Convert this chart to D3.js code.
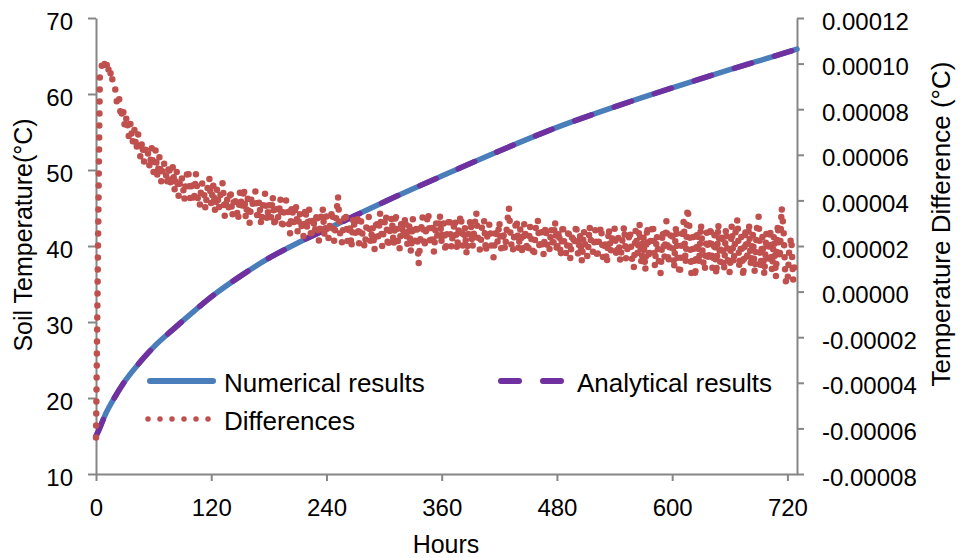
<!DOCTYPE html>
<html>
<head>
<meta charset="utf-8">
<script src="https://cdn.jsdelivr.net/npm/d3@7"></script>
<style>
  body { margin: 0; background: #fff; }
</style>
</head>
<body>
<div id="chart"></div>
<script>
// hours and soil temperature (both series overlap)
const curveHours = [0, 2, 5, 10, 20, 30, 45, 60, 80, 100, 120, 150, 180, 210, 240, 270, 300, 360, 420, 480, 540, 600, 660, 720, 730];
const numericalTemp = [15.0, 15.5, 16.4, 17.9, 20.2, 22.2, 24.6, 26.7, 29.0, 31.2, 33.3, 36.0, 38.4, 40.4, 42.2, 44.0, 45.8, 49.2, 52.5, 55.6, 58.3, 60.8, 63.2, 65.5, 65.9];
const analyticalTemp = [15.0, 15.5, 16.4, 17.9, 20.2, 22.2, 24.6, 26.7, 29.0, 31.2, 33.3, 36.0, 38.4, 40.4, 42.2, 44.0, 45.8, 49.2, 52.5, 55.6, 58.3, 60.8, 63.2, 65.5, 65.9];

// differences, one value every 2 hours starting at hour 0, in units of 1e-6 °C
const diffStepHours = 2;
const diffMicro = [
  -64, 16, 95, 99, 102, 97, 101, 94, 97, 89,
  89, 82, 85, 76, 81, 72, 77, 68, 74, 65,
  71, 62, 69, 59, 66, 57, 64, 61, 54, 63,
  52, 62, 50, 59, 48, 57, 55, 47, 56, 46,
  55, 44, 53, 42, 51, 49, 40, 50, 54, 41,
  49, 39, 52, 41, 37, 48, 46, 36, 45, 50,
  38, 47, 35, 45, 36, 44, 48, 33, 42, 36,
  45, 33, 42, 38, 31, 44, 36, 46, 32, 41,
  30, 42, 36, 44, 31, 40, 29, 38, 43, 31,
  39, 30, 42, 28, 37, 32, 41, 27, 36, 40,
  35, 25, 38, 30, 39, 26, 35, 29, 24, 37,
  27, 36, 23, 33, 26, 35, 22, 31, 37, 24,
  33, 23, 31, 36, 22, 32, 42, 26, 21, 31,
  35, 22, 30, 19, 33, 25, 34, 21, 31, 23,
  19, 31, 33, 21, 29, 18, 32, 24, 35, 20,
  29, 34, 19, 27, 33, 20, 35, 23, 18, 31,
  24, 33, 20, 30, 17, 32, 22, 30, 12, 25,
  33, 19, 29, 35, 20, 28, 17, 31, 22, 34,
  21, 30, 17, 28, 33, 19, 27, 32, 18, 29,
  34, 20, 29, 16, 26, 32, 19, 28, 35, 21,
  18, 29, 32, 17, 27, 30, 19, 15, 28, 21,
  31, 19, 27, 18, 29, 37, 22, 17, 27, 32,
  18, 28, 16, 30, 21, 17, 29, 20, 15, 28,
  32, 18, 26, 16, 29, 20, 17, 28, 19, 31,
  17, 27, 15, 30, 19, 16, 28, 14, 26, 20,
  30, 16, 25, 13, 27, 18, 15, 29, 19, 17,
  27, 14, 24, 29, 15, 23, 12, 28, 17, 25,
  28, 15, 24, 13, 22, 29, 14, 21, 27, 15,
  10, 27, 16, 30, 12, 25, 9, 29, 14, 26,
  30, 11, 25, 14, 8, 27, 15, 31, 12, 24,
  27, 10, 29, 13, 7, 25, 31, 12, 37, 28,
  8, 24, 6, 27, 12, 30, 14, 9, 26, 13,
  29, 10, 25, 7, 30, 13, 26, 9, 28, 14,
  8, 29, 12, 26, 32, 10, 24, 6, 28, 13,
  30, 11, 25, 8, 27, 33, 10, 24, 7, 26,
  12, 28, 9, 25, 6, 30, 14, 37, 27, 5,
  3, 19, 24, 5, 15
];

const xTicks = [0, 120, 240, 360, 480, 600, 720];
const leftTicks = [10, 20, 30, 40, 50, 60, 70];
const rightTicks = [-0.00008, -0.00006, -0.00004, -0.00002, 0, 0.00002, 0.00004, 0.00006, 0.00008, 0.00010, 0.00012];
const rightTickLabels = ["-0.00008", "-0.00006", "-0.00004", "-0.00002", "0.00000", "0.00002", "0.00004", "0.00006", "0.00008", "0.00010", "0.00012"];

const FONT = '"Liberation Sans", Arial, sans-serif';
const axisColor = '#868686';
const numColor = '#4a7ebb';
const anaColor = '#7030a0';
const diffColor = '#c0504d';

const plot = {left: 96, right: 797, top: 18, bottom: 474};

const svg = d3.select('#chart').append('svg')
    .attr('width', 961)
    .attr('height', 558)
    .style('font-family', FONT);

const x = d3.scaleLinear().domain([0, 730]).range([plot.left, plot.right]);
const yLeft = d3.scaleLinear().domain([10, 70]).range([plot.bottom, plot.top]);
const yRight = d3.scaleLinear().domain([-0.00008, 0.00012]).range([plot.bottom, plot.top]);

function styleAxis(g) {
    g.attr('font-family', FONT).attr('font-size', 24);
    g.select('.domain').attr('stroke', axisColor).attr('stroke-width', 2);
    g.selectAll('.tick line').attr('stroke', axisColor).attr('stroke-width', 2);
    g.selectAll('.tick text').attr('fill', '#000');
}

// left axis
svg.append('g')
    .attr('transform', `translate(${plot.left},0)`)
    .call(d3.axisLeft(yLeft).tickValues(leftTicks).tickSize(8).tickSizeOuter(0).tickPadding(15))
    .call(styleAxis)
    .selectAll('.tick text').attr('dy', 11);

// right axis
svg.append('g')
    .attr('transform', `translate(${plot.right},0)`)
    .call(d3.axisRight(yRight).tickValues(rightTicks).tickSize(7).tickSizeOuter(0).tickPadding(18)
        .tickFormat((d, i) => rightTickLabels[i]))
    .call(styleAxis)
    .selectAll('.tick text').attr('dy', 11);

// bottom axis
svg.append('g')
    .attr('transform', `translate(0,${plot.bottom})`)
    .call(d3.axisBottom(x).tickValues(xTicks).tickSize(7).tickSizeOuter(0))
    .call(styleAxis)
    .selectAll('.tick text').attr('y', 42).attr('dy', 0);

// series
const curveLine = d3.line()
    .x(d => x(d[0]))
    .y(d => yLeft(d[1]))
    .curve(d3.curveMonotoneX);

svg.append('path')
    .datum(curveHours.map((h, i) => [h, numericalTemp[i]]))
    .attr('d', curveLine)
    .attr('fill', 'none')
    .attr('stroke', numColor)
    .attr('stroke-width', 5.5)
    .attr('stroke-linecap', 'round');

svg.append('path')
    .datum(curveHours.map((h, i) => [h, analyticalTemp[i]]))
    .attr('d', curveLine)
    .attr('fill', 'none')
    .attr('stroke', anaColor)
    .attr('stroke-width', 5.5)
    .attr('stroke-dasharray', '18 24')
    .attr('stroke-linecap', 'round');

const diffLine = d3.line()
    .x(d => x(d[0]))
    .y(d => yRight(d[1]));

svg.append('path')
    .datum(diffMicro.map((v, i) => [i * diffStepHours, v * 1e-6]))
    .attr('d', diffLine)
    .attr('fill', 'none')
    .attr('stroke', diffColor)
    .attr('stroke-width', 6.5)
    .attr('stroke-dasharray', '0 12')
    .attr('stroke-linecap', 'round');

// legend
const legend = svg.append('g').attr('font-size', 26);

legend.append('line')
    .attr('x1', 150).attr('x2', 213).attr('y1', 381).attr('y2', 381)
    .attr('stroke', numColor).attr('stroke-width', 6).attr('stroke-linecap', 'round');
legend.append('text').attr('x', 224).attr('y', 392).text('Numerical results');

legend.append('line')
    .attr('x1', 501).attr('x2', 562).attr('y1', 381).attr('y2', 381)
    .attr('stroke', anaColor).attr('stroke-width', 6)
    .attr('stroke-dasharray', '18 24').attr('stroke-linecap', 'round');
legend.append('text').attr('x', 577).attr('y', 392).text('Analytical results');

legend.append('line')
    .attr('x1', 148).attr('x2', 209).attr('y1', 419).attr('y2', 419)
    .attr('stroke', diffColor).attr('stroke-width', 5.5)
    .attr('stroke-dasharray', '0 12').attr('stroke-linecap', 'round');
legend.append('text').attr('x', 224).attr('y', 430).text('Differences');

// axis titles
svg.append('text')
    .attr('transform', 'translate(32,235) rotate(-90)')
    .attr('text-anchor', 'middle')
    .attr('font-size', 25)
    .text('Soil Temperature(°C)');

svg.append('text')
    .attr('transform', 'translate(950,224) rotate(-90)')
    .attr('text-anchor', 'middle')
    .attr('font-size', 26)
    .text('Temperature Difference (°C)');

svg.append('text')
    .attr('x', 446)
    .attr('y', 553)
    .attr('text-anchor', 'middle')
    .attr('font-size', 25)
    .text('Hours');
</script>
</body>
</html>
